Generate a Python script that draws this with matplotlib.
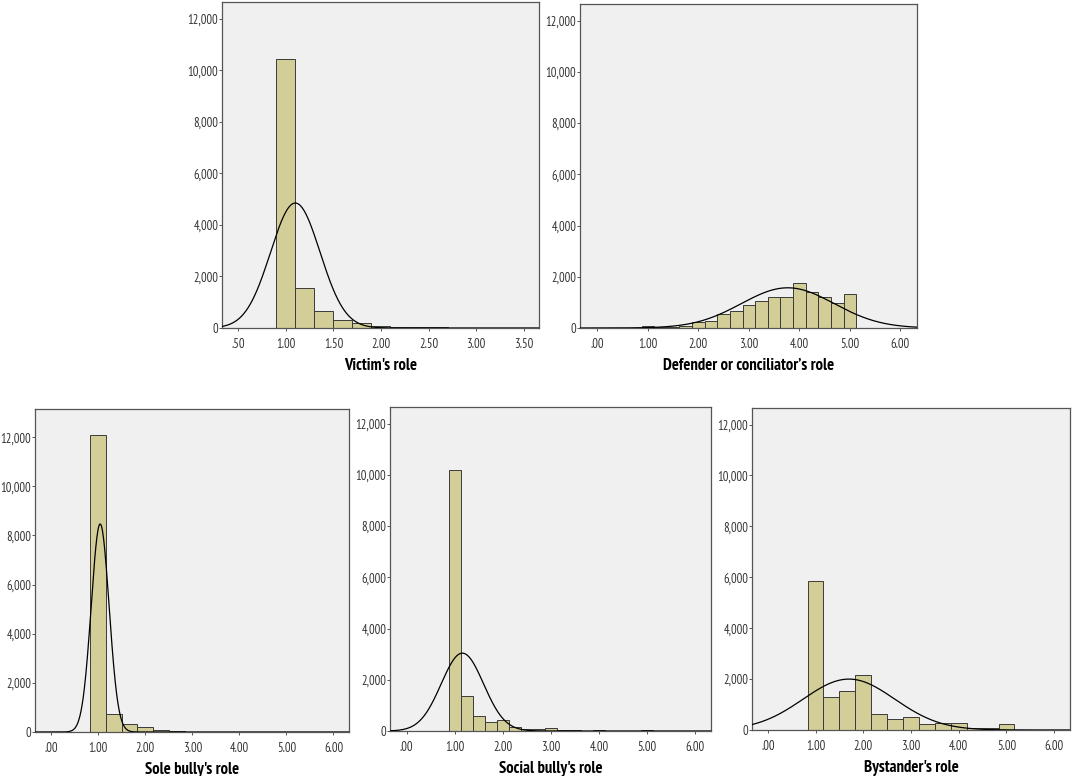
import numpy as np
import matplotlib
matplotlib.use("Agg")
import matplotlib.pyplot as plt
from matplotlib.ticker import FuncFormatter

TICK_FONT = ['Arial Narrow', 'Liberation Sans Narrow', 'PT Sans Narrow', 'Archivo Narrow', 'DejaVu Sans']
LABEL_FONT = ['Arial Narrow', 'Liberation Sans Narrow', 'PT Sans Narrow', 'Barlow Semi Condensed',
              'Barlow Condensed', 'DejaVu Sans']
plt.rcParams['font.family'] = TICK_FONT

# ---------------- data ----------------
titles = ["Victim's role", "Defender or conciliator\u2019s role", "Sole bully's role",
          "Social bully's role", "Bystander's role"]

# Victim's role (bin width 0.2)
victim_width = 0.2
victim_centers = [1.0, 1.2, 1.4, 1.6, 1.8, 2.0, 2.2, 2.4, 2.6, 2.8, 3.0, 3.2, 3.4]
victim_counts = [10420, 1540, 670, 325, 175, 90, 40, 20, 30, 10, 8, 6, 6]
victim_curve = dict(mean=1.10, sd=0.26, peak=4850)

# Defender or conciliator's role (bin width 0.25)
defender_width = 0.25
defender_centers = [1.0, 1.25, 1.5, 1.75, 2.0, 2.25, 2.5, 2.75, 3.0, 3.25, 3.5,
                    3.75, 4.0, 4.25, 4.5, 4.75, 5.0]
defender_counts = [70, 25, 40, 80, 250, 290, 560, 680, 910, 1055, 1200,
                   1225, 1770, 1395, 1210, 990, 1340]
defender_curve = dict(mean=3.77, sd=0.92, peak=1570)

# Sole bully's role (bin width 1/3)
sole_width = 1 / 3
sole_centers = [1.0, 4 / 3, 5 / 3, 2.0, 7 / 3, 8 / 3, 3.0, 10 / 3, 11 / 3, 4.0,
                13 / 3, 14 / 3, 5.0]
sole_counts = [12100, 735, 310, 200, 80, 40, 20, 10, 8, 8, 6, 6, 10]
sole_curve = dict(mean=1.04, sd=0.19, peak=8470)

# Social bully's role (bin width 0.25)
social_width = 0.25
social_centers = [1.0, 1.25, 1.5, 1.75, 2.0, 2.25, 2.5, 2.75, 3.0, 3.25, 3.5,
                  3.75, 4.0, 4.25, 4.5, 4.75, 5.0]
social_counts = [10200, 1380, 570, 335, 420, 170, 80, 60, 120, 50, 25,
                 10, 25, 10, 10, 10, 35]
social_curve = dict(mean=1.16, sd=0.44, peak=3040)

# Bystander's role (bin width 1/3)
bystander_width = 1 / 3
bystander_centers = [1.0, 4 / 3, 5 / 3, 2.0, 7 / 3, 8 / 3, 3.0, 10 / 3, 11 / 3,
                     4.0, 13 / 3, 14 / 3, 5.0]
bystander_counts = [5870, 1285, 1520, 2145, 630, 440, 510, 240, 265, 290,
                    65, 65, 225]
bystander_curve = dict(mean=1.70, sd=0.96, peak=2000)

victim_xticks = [0.5, 1.0, 1.5, 2.0, 2.5, 3.0, 3.5]
role_xticks = [0, 1, 2, 3, 4, 5, 6]
yticks = [0, 2000, 4000, 6000, 8000, 10000, 12000]

# ---------------- layout ----------------
W, H = 1072, 776
fig = plt.figure(figsize=(W / 100, H / 100), dpi=100)
fig.patch.set_facecolor('white')


def px_axes(left, top, right, bottom):
    return fig.add_axes([left / W, 1 - bottom / H, (right - left) / W, (bottom - top) / H])


panels = [
    (px_axes(222, 2, 539, 328), victim_centers, victim_counts, victim_width, victim_curve,
     victim_xticks, (0.33, 3.66), 12650, titles[0]),
    (px_axes(580, 4, 917, 328), defender_centers, defender_counts, defender_width, defender_curve,
     role_xticks, (-0.345, 6.33), 12650, titles[1]),
    (px_axes(35, 409, 349, 732), sole_centers, sole_counts, sole_width, sole_curve,
     role_xticks, (-0.345, 6.33), 13150, titles[2]),
    (px_axes(390, 407, 711, 731), social_centers, social_counts, social_width, social_curve,
     role_xticks, (-0.345, 6.33), 12650, titles[3]),
    (px_axes(752, 408, 1070, 730), bystander_centers, bystander_counts, bystander_width,
     bystander_curve, role_xticks, (-0.33, 6.33), 12650, titles[4]),
]


def fmt_x(v, pos):
    s = f"{v:.2f}"
    if s.startswith("0"):
        s = s[1:]
    return s


for ax, centers, counts, width, curve, xt, xlim, ymax, title in panels:
    ax.set_facecolor('#F0F0F0')
    ax.bar(centers, counts, width=width, align='center', color='#D3CE97',
           edgecolor='#3a3a3a', linewidth=0.7, zorder=2)
    xs = np.linspace(xlim[0], xlim[1], 600)
    ys = curve['peak'] * np.exp(-0.5 * ((xs - curve['mean']) / curve['sd']) ** 2)
    ax.plot(xs, ys, color='black', linewidth=0.9, zorder=3)
    ax.set_xlim(*xlim)
    ax.set_ylim(0, ymax)
    ax.set_xticks(xt)
    ax.xaxis.set_major_formatter(FuncFormatter(fmt_x))
    ax.set_yticks(yticks)
    ax.yaxis.set_major_formatter(FuncFormatter(lambda v, p: f"{int(v):,}"))
    ax.tick_params(axis='both', direction='out', length=2.2, width=0.7, color='#555555',
                   labelsize=9, labelcolor='#333333')
    ax.tick_params(axis='y', pad=0.5)
    ax.tick_params(axis='x', pad=5)
    for sp in ax.spines.values():
        sp.set_color('#555555')
        sp.set_linewidth(0.9)
    ax.set_xlabel(title, fontsize=12, fontweight='bold', color='black', labelpad=5,
                  family=LABEL_FONT)

fig.savefig('out.png', dpi=100, facecolor='white')
